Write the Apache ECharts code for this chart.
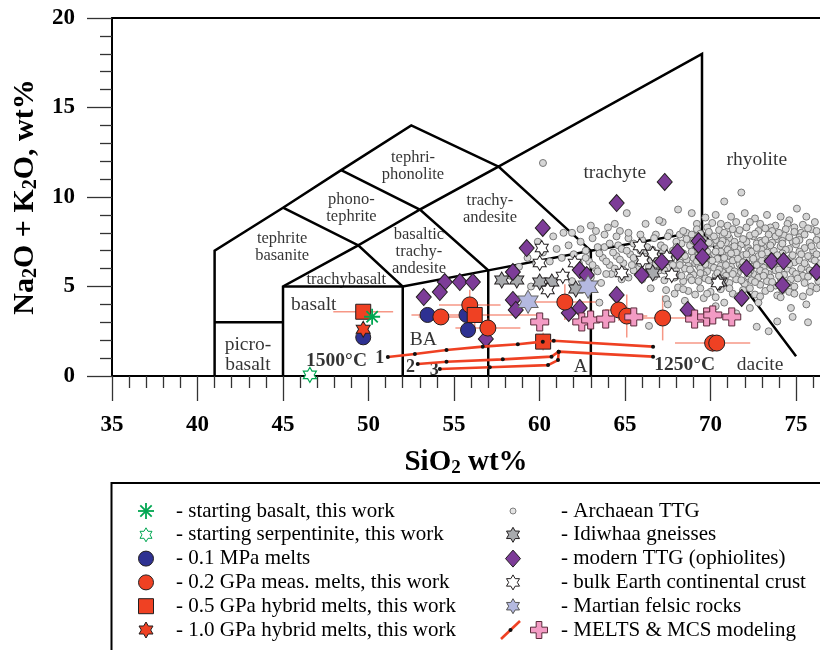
<!DOCTYPE html>
<html>
<head>
<meta charset="utf-8">
<title>TAS diagram</title>
<script src="https://cdn.jsdelivr.net/npm/echarts@6/dist/echarts.min.js"></script>
<style>
  html, body { margin: 0; padding: 0; background: #fff; }
  #chart { width: 820px; height: 650px; }
</style>
</head>
<body>
<div id="chart"></div>
<script>
// ---- data ----
const xMajorTicks = [35, 40, 45, 50, 55, 60, 65, 70, 75];
const xMinorTicks = [36, 37, 38, 39, 41, 42, 43, 44, 46, 47, 48, 49, 51, 52, 53, 54, 56, 57, 58, 59,
  61, 62, 63, 64, 66, 67, 68, 69, 71, 72, 73, 74, 76];

// TAS field boundaries (SiO2, Na2O+K2O)
const tasLines = [
  [[41, 0], [41, 7], [45, 9.4], [48.4, 11.5], [52.5, 14], [57.6, 11.7], [69.5, 18], [69.5, 8.1]],
  [[41, 3], [45, 3]],
  [[45, 0], [45, 5], [49.4, 7.3], [52, 5], [52, 0]],
  [[45, 5], [52, 5], [57, 5.9], [63, 7], [69.5, 8.1], [75, 1.1]],
  [[57, 0], [57, 5.9], [53, 9.3], [57.6, 11.7], [63, 7], [63, 0]],
  [[45, 9.4], [49.4, 7.3], [53, 9.3], [48.4, 11.5]]
];

const fieldNames = ['tephri-\nphonolite', 'phono-\ntephrite', 'tephrite\nbasanite', 'trachy-\nandesite',
  'basaltic\ntrachy-\nandesite', 'trachybasalt', 'basalt', 'picro-\nbasalt', 'BA', 'A', 'dacite', 'trachyte', 'rhyolite'];
const fieldX = [52.6, 49.0, 44.95, 57.1, 52.95, 48.7, 46.8, 42.95, 53.2, 62.4, 72.9, 64.4, 72.7];
const fieldY = [11.73, 9.39, 7.18, 9.3, 6.96, 5.4, 3.97, 1.17, 2.01, 0.52, 0.61, 11.36, 12.07];

const tempNames = ['1500°C', '1250°C', '1', '2', '3'];
const tempX = [48.13, 68.49, 50.66, 52.46, 53.84];
const tempY = [0.85, 0.61, 0.99, 0.49, 0.34];

const startingBasalt = [[50.21, 3.31]];
const startingSerpentinite = [[46.57, 0.06]];
const melts01MPa = [[49.69, 2.16], [53.45, 3.41], [55.82, 2.57], [55.73, 3.41]];
const melts02GPa = [[54.23, 3.3], [55.92, 3.97], [56.98, 2.68], [61.48, 4.13], [64.63, 3.69],
  [65.1, 3.35], [67.2, 3.24], [70.12, 1.84], [70.36, 1.84]];
const melts02GPaErr = [[1.3, 0], [1.8, 0.85], [1.9, 0.55], [2.2, 1.0], [0.8, 0.6],
  [1.2, 1.2], [1.9, 1.25], [2.2, 0.5], [0, 0]];
const hybrid05GPa = [[49.69, 3.59], [56.21, 3.41], [60.21, 1.92]];
const hybrid05GPaErr = [[1.75, 0], [3.7, 0.9], [0, 0.5]];
const hybrid10GPa = [[49.69, 2.61]];

const meltsLine1 = [[51.13, 1.06], [52.71, 1.23], [54.56, 1.45], [56.68, 1.64], [58.73, 1.77],
  [60.19, 1.92], [60.83, 1.97], [66.64, 1.64]];
const meltsLine2 = [[52.88, 0.67], [54.56, 0.8], [57.85, 0.93], [60.7, 1.08], [61.12, 1.36], [66.64, 1.08]];
const meltsLine3 = [[54.17, 0.39], [57.09, 0.49], [60.5, 0.61], [61.08, 0.89], [61.12, 1.36]];
const mcsModel = [[60.01, 3.02], [62.47, 3.02], [62.99, 3.13], [63.87, 3.18], [65.51, 3.3],
  [69.07, 3.18], [69.77, 3.3], [70.13, 3.41], [71.24, 3.3]];

const idiwhaa = [[57.79, 5.36], [58.67, 5.36], [60.01, 5.25], [60.72, 5.25], [62.12, 4.86],
  [66.62, 5.75], [70.54, 5.25]];
const continentalCrust = [[60.13, 7.15], [65.86, 7.26], [66.62, 6.82], [62.06, 6.31], [64.81, 5.75],
  [61.36, 5.59], [60.48, 4.8], [67.73, 5.64], [70.42, 5.2], [60.01, 6.31], [66.03, 6.48], [67.44, 6.65]];
const martian = [[59.33, 4.15], [62.84, 4.99]];
const modernTTG = [[54.46, 5.25], [55.34, 5.25], [56.1, 5.25], [54.17, 4.69], [53.23, 4.41], [56.86, 2.07],
  [58.44, 5.81], [58.44, 4.25], [58.61, 3.69], [59.25, 7.15], [60.19, 8.27], [67.32, 10.84], [64.51, 9.66],
  [68.07, 6.93], [69.3, 7.54], [69.42, 7.21], [69.53, 6.65], [73.57, 6.42], [74.27, 6.42], [62.35, 5.92],
  [62.76, 5.64], [67.15, 6.37], [72.11, 6.03], [76.2, 5.81], [74.21, 5.08], [64.51, 4.53], [71.82, 4.36],
  [61.71, 3.52], [62.35, 3.8], [68.66, 3.69], [65.98, 5.64]];

const archaeanTTG = [
  [60.2, 11.9], [65.1, 9.1], [68.1, 9.3], [68.9, 9.1], [69.7, 8.85], [70.8, 9.75], [71.8, 10.25], [75.05, 9.35],
  [64.4, 8.5], [61.9, 8.0], [60.8, 7.8], [59.9, 7.5], [63.0, 8.4], [67.2, 8.6], [62.4, 8.2], [63.3, 8.1],
  [64.0, 8.3], [64.7, 8.1], [61.4, 8.0],
  [70.3, 9.0], [71.2, 8.9], [72.0, 9.1], [72.6, 8.8], [73.3, 9.0], [74.1, 8.9], [74.6, 8.7], [75.6, 8.9],
  [76.1, 8.6], [67.0, 8.7], [66.2, 8.5], [70.6, 8.5], [71.5, 8.6], [72.9, 8.5], [73.8, 8.4], [74.9, 8.3],
  [75.9, 8.2], [76.3, 7.9], [69.2, 8.5], [70.1, 8.55], [71.0, 8.4], [72.3, 8.6], [73.5, 8.3], [74.5, 8.5], [75.4, 8.45],
  [69.2, 8.2], [69.8, 8.3], [70.5, 8.15], [71.3, 8.2], [72.1, 8.3], [72.8, 8.1], [73.6, 8.1], [74.4, 8.2],
  [75.3, 8.0], [68.6, 8.0], [68.2, 7.9], [67.6, 8.0], [66.8, 7.9], [66.0, 7.6], [65.2, 7.7], [64.6, 7.3], [63.8, 7.2],
  [68.9, 7.9], [69.4, 7.7], [69.9, 7.95], [70.3, 7.6], [70.7, 7.85], [71.1, 7.7], [71.6, 7.95], [72.0, 7.6],
  [72.5, 7.8], [72.9, 7.55], [73.4, 7.9], [73.9, 7.65], [74.3, 7.85], [74.8, 7.5], [75.2, 7.75], [75.8, 7.45], [76.2, 7.6],
  [68.3, 7.4], [68.8, 7.3], [69.2, 7.45], [69.6, 7.2], [70.0, 7.4], [70.5, 7.25], [70.9, 7.45], [71.3, 7.2],
  [71.8, 7.35], [72.2, 7.15], [72.7, 7.4], [73.1, 7.2], [73.6, 7.45], [74.1, 7.25], [74.6, 7.1], [75.0, 7.35],
  [75.5, 7.15], [76.0, 7.0],
  [69.1, 7.1], [69.7, 7.05], [70.4, 7.1], [71.0, 7.05], [71.6, 7.1], [72.3, 7.0], [73.0, 7.05], [73.7, 7.0],
  [74.4, 7.05], [75.2, 6.95], [69.6, 7.6], [70.7, 7.55], [71.4, 7.5], [72.1, 7.5], [73.0, 7.45], [74.2, 7.55],
  [75.2, 7.6], [76.4, 7.3],
  [67.2, 6.9], [67.8, 7.0], [68.4, 6.85], [68.9, 6.95], [69.3, 6.75], [69.8, 6.95], [70.2, 6.8], [70.6, 6.95],
  [71.0, 6.7], [71.5, 6.9], [71.9, 6.75], [72.4, 6.95], [72.8, 6.7], [73.3, 6.9], [73.7, 6.65], [74.2, 6.85],
  [74.7, 6.6], [75.3, 6.8], [75.9, 6.55], [76.2, 6.8],
  [66.5, 6.5], [67.1, 6.4], [67.7, 6.55], [68.2, 6.35], [68.6, 6.5], [69.1, 6.3], [69.5, 6.5], [70.0, 6.35],
  [70.4, 6.55], [70.8, 6.3], [71.3, 6.45], [71.7, 6.25], [72.1, 6.5], [72.6, 6.3], [73.0, 6.45], [73.5, 6.2],
  [73.9, 6.4], [74.4, 6.15], [74.9, 6.35], [75.6, 6.1], [76.3, 6.3],
  [68.7, 6.15], [69.3, 6.15], [70.0, 6.2], [70.6, 6.15], [71.2, 6.1], [71.8, 6.05], [72.4, 6.1], [73.1, 6.05],
  [73.7, 6.1], [74.5, 6.0], [75.3, 6.0],
  [65.8, 6.0], [66.4, 6.1], [67.0, 5.9], [67.5, 6.05], [68.0, 5.85], [68.5, 6.0], [68.9, 5.8], [69.4, 6.0],
  [69.8, 5.85], [70.2, 6.05], [70.7, 5.8], [71.1, 5.95], [71.6, 5.75], [72.0, 5.95], [72.5, 5.7], [72.9, 5.9],
  [73.4, 5.7], [73.8, 5.9], [74.3, 5.65], [74.8, 5.85], [75.4, 5.6], [76.0, 5.8],
  [69.0, 5.65], [69.6, 5.65], [70.3, 5.6], [70.9, 5.6], [71.5, 5.55], [72.2, 5.55], [72.8, 5.5], [73.5, 5.5],
  [74.1, 5.45], [74.7, 5.4],
  [65.2, 5.5], [66.0, 5.4], [66.7, 5.55], [67.3, 5.35], [67.9, 5.5], [68.4, 5.3], [68.8, 5.5], [69.3, 5.3],
  [69.7, 5.45], [70.2, 5.25], [70.6, 5.45], [71.1, 5.2], [71.5, 5.4], [72.0, 5.15], [72.4, 5.35], [72.9, 5.1],
  [73.3, 5.3], [73.8, 5.05], [74.3, 5.25], [74.9, 5.0], [75.5, 5.2], [76.3, 5.3], [75.9, 5.0],
  [66.5, 4.9], [67.4, 4.8], [68.1, 4.95], [68.7, 4.75], [69.4, 4.9], [70.0, 4.7], [70.6, 4.85], [71.3, 4.6],
  [71.9, 4.8], [72.6, 4.55], [73.2, 4.75], [73.9, 4.5], [74.6, 4.7], [75.4, 4.45],
  [67.4, 4.3], [68.5, 4.2], [69.6, 4.35], [70.8, 4.1], [71.8, 4.3], [72.8, 4.1], [74.1, 4.4], [74.7, 3.8], [75.6, 4.0],
  [66.4, 2.8], [73.4, 2.5], [73.9, 3.05], [74.8, 3.3], [75.7, 3.0], [72.7, 2.75], [63.5, 4.1], [67.5, 4.0],
  [68.7, 3.6], [72.3, 3.8], [71.5, 3.5], [70.3, 3.9],
  [58.8, 6.1], [59.3, 6.6], [59.8, 6.3], [60.2, 6.9], [60.6, 6.4], [61.0, 7.1], [61.3, 6.6], [61.7, 7.3],
  [62.0, 6.8], [62.4, 7.5], [62.7, 7.0], [63.1, 7.7], [63.4, 7.2], [63.8, 7.9], [64.1, 7.4], [64.5, 7.8],
  [64.8, 7.1], [65.2, 8.0], [65.5, 7.4], [65.9, 7.9], [66.3, 7.2], [66.7, 7.7], [67.1, 7.3], [67.5, 7.8],
  [68.0, 7.5], [68.4, 8.1],
  [62.9, 6.4], [63.3, 6.0], [63.7, 6.6], [64.1, 6.2], [64.5, 6.7], [64.9, 6.3], [65.3, 6.8], [65.7, 6.4], [66.1, 6.9],
  [63.0, 5.5], [63.6, 5.2], [64.2, 5.7], [64.8, 5.4], [65.5, 5.9], [61.5, 5.6], [62.2, 5.9], [60.7, 5.3],
  [59.5, 5.0], [58.3, 5.6],
  [68.6, 7.65], [69.0, 7.55], [69.4, 7.95], [69.9, 7.45], [70.2, 7.8], [70.6, 7.35], [71.0, 7.9], [71.4, 7.25],
  [71.9, 7.65], [72.3, 7.85], [72.7, 7.15], [73.2, 7.6], [73.5, 7.3], [73.8, 7.8], [74.2, 7.4], [74.6, 7.75],
  [75.0, 7.55], [75.5, 7.9], [75.9, 7.25],
  [68.5, 6.7], [69.0, 6.6], [69.5, 6.85], [69.9, 6.6], [70.3, 6.95], [70.8, 6.6], [71.2, 6.85], [71.6, 6.55],
  [72.1, 6.8], [72.5, 6.55], [73.0, 6.8], [73.4, 6.55], [73.9, 6.75], [74.3, 6.5], [74.8, 6.75], [75.2, 6.45],
  [75.7, 6.7], [76.1, 6.45],
  [68.2, 6.2], [68.8, 5.95], [69.2, 6.4], [69.7, 6.25], [70.1, 6.45], [70.5, 5.95], [70.9, 6.2], [71.4, 5.85],
  [71.9, 6.35], [72.3, 5.85], [72.7, 6.2], [73.2, 5.8], [73.6, 6.3], [74.0, 5.95], [74.6, 6.25], [75.0, 5.7],
  [75.5, 6.3], [75.8, 5.9],
  [68.3, 5.6], [68.9, 5.35], [69.4, 5.75], [69.9, 5.35], [70.4, 5.75], [70.8, 5.35], [71.3, 5.7], [71.8, 5.35],
  [72.2, 5.75], [72.6, 5.25], [73.1, 5.6], [73.6, 5.25], [74.0, 5.6], [74.5, 5.15], [75.1, 5.45], [75.7, 5.55],
  [68.0, 7.2], [67.6, 6.75], [67.3, 7.15], [66.9, 6.7], [66.6, 7.05], [66.2, 6.65], [65.9, 7.0], [65.5, 6.6],
  [65.1, 7.0], [64.7, 6.5], [64.3, 6.9], [63.9, 6.4], [63.5, 6.85], [63.1, 6.2], [62.7, 6.6], [62.3, 6.3],
  [67.8, 6.2], [67.3, 5.9], [66.8, 6.25], [66.3, 5.8], [65.9, 6.3], [65.4, 6.2], [64.9, 5.9], [64.4, 6.0],
  [63.9, 5.7], [63.4, 5.85], [62.6, 5.5], [61.9, 5.3],
  [67.9, 4.6], [68.4, 4.85], [69.1, 4.55], [69.8, 4.6], [70.3, 4.4], [71.1, 4.9], [71.6, 4.45], [72.3, 4.9],
  [72.9, 4.45], [73.5, 4.9], [74.2, 4.8], [74.9, 4.6], [75.8, 4.7], [76.2, 4.9],
  [69.9, 8.05], [70.8, 8.0], [71.7, 8.15], [72.6, 7.95], [73.2, 8.25], [74.0, 8.0], [74.9, 8.05], [75.7, 8.25], [76.2, 8.1]
];

const legendLeft = ['starting basalt, this work', 'starting serpentinite, this work', '0.1 MPa melts',
  '0.2 GPa meas. melts, this work', '0.5 GPa hybrid melts, this work', '1.0 GPa hybrid melts, this work'];
const legendRight = ['Archaean TTG', 'Idiwhaa gneisses', 'modern TTG (ophiolites)',
  'bulk Earth continental crust', 'Martian felsic rocks', 'MELTS & MCS modeling'];

// ---- styling ----
const FONT = '"Liberation Serif", "Times New Roman", Times, serif';
const RED = '#ef4123';
const ERR = 'rgba(239, 65, 35, 0.55)';
const INK = '#231f20';
const GREEN = '#00a651';

const STAR_PTS = [[0, -10], [2.887, -5], [8.66, -5], [5.774, 0], [8.66, 5], [2.887, 5], [0, 10],
  [-2.887, 5], [-8.66, 5], [-5.774, 0], [-8.66, -5], [-2.887, -5]];
const CROSS_PTS = [[-3, -9], [3, -9], [3, -3], [9, -3], [9, 3], [3, 3], [3, 9], [-3, 9],
  [-3, 3], [-9, 3], [-9, -3], [-3, -3]];
const toPath = (pts) => 'path://M' + pts.map((p) => p.join(',')).join('L') + 'Z';
const STAR = toPath(STAR_PTS);
const CROSS = toPath(CROSS_PTS);
const ASTERISK = 'path://M0,-10L0,10M-10,0L10,0M-7.07,-7.07L7.07,7.07M-7.07,7.07L7.07,-7.07';

function scatter(name, data, symbol, size, color, border, borderWidth) {
  return {
    name, type: 'scatter', data, symbol, symbolSize: size, silent: true,
    itemStyle: { color, borderColor: border, borderWidth, opacity: 1 }
  };
}

function errorBars(points, errs) {
  return {
    type: 'custom',
    silent: true,
    data: points.map((p, i) => [p[0], p[1], errs[i][0], errs[i][1]]),
    renderItem(params, api) {
      const x = api.value(0);
      const y = api.value(1);
      const ex = api.value(2);
      const ey = api.value(3);
      const children = [];
      const seg = (a, b) => ({
        type: 'line',
        shape: { x1: a[0], y1: a[1], x2: b[0], y2: b[1] },
        style: { stroke: ERR, lineWidth: 1.5 }
      });
      if (ex) children.push(seg(api.coord([x - ex, y]), api.coord([x + ex, y])));
      if (ey) children.push(seg(api.coord([x, y - ey]), api.coord([x, y + ey])));
      return { type: 'group', children };
    }
  };
}

function meltsLine(data) {
  return {
    type: 'line', data, silent: true, symbol: 'circle', symbolSize: 4, showSymbol: true,
    itemStyle: { color: '#111' },
    lineStyle: { color: RED, width: 2.6 }
  };
}

// ---- legend drawn as graphics ----
function polyAt(pts, cx, cy, w, h) {
  const xs = pts.map((p) => p[0]);
  const ys = pts.map((p) => p[1]);
  const bw = Math.max(...xs) - Math.min(...xs);
  const bh = Math.max(...ys) - Math.min(...ys);
  return pts.map(([u, v]) => [cx + (u * w) / bw, cy + (v * h) / bh]);
}

function legendIcon(name, cx, cy) {
  const poly = (pts, w, h, fill, stroke, x = cx) => ({
    type: 'polygon', shape: { points: polyAt(pts, x, cy, w, h) },
    style: { fill, stroke, lineWidth: 1 }
  });
  switch (name) {
    case legendLeft[0]:
      return [[0, -8, 0, 8], [-8, 0, 8, 0], [-5.7, -5.7, 5.7, 5.7], [-5.7, 5.7, 5.7, -5.7]].map((l) => ({
        type: 'line', shape: { x1: cx + l[0], y1: cy + l[1], x2: cx + l[2], y2: cy + l[3] },
        style: { stroke: GREEN, lineWidth: 1.8 }
      }));
    case legendLeft[1]: return [poly(STAR_PTS, 12, 14, '#fff', GREEN)];
    case legendLeft[2]: return [{ type: 'circle', shape: { cx, cy, r: 7.5 }, style: { fill: '#2e3192', stroke: INK } }];
    case legendLeft[3]: return [{ type: 'circle', shape: { cx, cy, r: 7.5 }, style: { fill: RED, stroke: INK } }];
    case legendLeft[4]: return [{ type: 'rect', shape: { x: cx - 7.5, y: cy - 7.5, width: 15, height: 15 }, style: { fill: RED, stroke: INK } }];
    case legendLeft[5]: return [poly(STAR_PTS, 14, 16, RED, INK)];
    case legendRight[0]: return [{ type: 'circle', shape: { cx, cy, r: 3 }, style: { fill: '#e4e4e4', stroke: '#808080' } }];
    case legendRight[1]: return [poly(STAR_PTS, 13, 15, '#a8aaad', INK)];
    case legendRight[2]: return [poly([[0, -1], [1, 0], [0, 1], [-1, 0]], 15, 17, '#7d3c98', INK)];
    case legendRight[3]: return [poly(STAR_PTS, 13, 15, '#fff', INK)];
    case legendRight[4]: return [poly(STAR_PTS, 13, 15, '#b4b9e0', '#555')];
    default:
      return [
        { type: 'line', shape: { x1: cx - 12, y1: cy + 9, x2: cx + 7, y2: cy - 9 }, style: { stroke: RED, lineWidth: 2.6 } },
        { type: 'circle', shape: { cx: cx - 2.5, cy, r: 2 }, style: { fill: '#111' } },
        poly(CROSS_PTS, 17, 17, '#f39bc4', '#5a2a3a', cx + 26)
      ];
  }
}

const LEG_TOP = 511;
const LEG_DY = 23.8;
const legendGraphics = [{
  type: 'rect', shape: { x: 111.5, y: 483, width: 740, height: 200 },
  style: { fill: 'none', stroke: '#000', lineWidth: 2 }
}];
[[legendLeft, 146, 176], [legendRight, 513, 561]].forEach(([names, ix, tx]) => {
  names.forEach((name, i) => {
    const y = LEG_TOP + i * LEG_DY;
    legendGraphics.push(...legendIcon(name, ix, y));
    legendGraphics.push({
      type: 'text', x: tx, y,
      style: { text: '- ' + name, fill: '#000', fontFamily: FONT, fontSize: 21, verticalAlign: 'middle', align: 'left' }
    });
  });
});

// ---- chart ----
const chart = echarts.init(document.getElementById('chart'));
const tickStyle = { color: '#333', width: 1.3 };
const boldLabel = { color: '#000', fontFamily: FONT, fontWeight: 'bold' };
const nameStyle = (size) => ({
  color: '#000', fontFamily: FONT, fontWeight: 'bold', fontSize: size,
  rich: { sub: { color: '#000', fontFamily: FONT, fontWeight: 'bold', fontSize: Math.round(size * 0.65), padding: [12, 0, 0, 0] } }
});
const bigFields = ['basalt', 'picro-\nbasalt', 'BA', 'A', 'dacite', 'trachyte', 'rhyolite'];

chart.setOption({
  animation: false,
  backgroundColor: '#fff',
  grid: { left: 112, right: 0, top: 18, bottom: 274, outerBoundsMode: 'none' },
  xAxis: [
    {
      type: 'value', min: 35, max: 76.4, position: 'bottom',
      axisLine: { show: true, onZero: false, lineStyle: { color: '#000', width: 2 } },
      axisTick: { show: true, length: 25, customValues: xMajorTicks, lineStyle: tickStyle },
      axisLabel: { ...boldLabel, fontSize: 23, margin: 38, customValues: xMajorTicks },
      splitLine: { show: false },
      name: 'SiO{sub|2} wt%', nameLocation: 'middle', nameGap: 71, nameTextStyle: nameStyle(29)
    },
    {
      type: 'value', min: 35, max: 76.4, position: 'bottom',
      axisLine: { show: false, onZero: false },
      axisTick: { show: true, length: 12, customValues: xMinorTicks, lineStyle: tickStyle },
      axisLabel: { show: false },
      splitLine: { show: false }
    },
    {
      type: 'value', min: 35, max: 76.4, position: 'top',
      axisLine: { show: true, onZero: false, lineStyle: { color: '#000', width: 2 } },
      axisTick: { show: false }, axisLabel: { show: false }, splitLine: { show: false }
    }
  ],
  yAxis: {
    type: 'value', min: 0, max: 20, interval: 5,
    axisLine: { show: true, onZero: false, lineStyle: { color: '#000', width: 2 } },
    axisTick: { show: true, length: 25, lineStyle: tickStyle },
    minorTick: { show: true, splitNumber: 5, length: 12, lineStyle: tickStyle },
    axisLabel: { ...boldLabel, fontSize: 23, margin: 37 },
    splitLine: { show: false }, minorSplitLine: { show: false },
    name: 'Na{sub|2}O + K{sub|2}O, wt%', nameLocation: 'middle', nameGap: 69, nameTextStyle: nameStyle(30)
  },
  graphic: legendGraphics,
  series: [
    {
      type: 'lines', coordinateSystem: 'cartesian2d', polyline: true, silent: true,
      data: tasLines.map((coords) => ({ coords })),
      lineStyle: { color: '#000', width: 2.5, opacity: 1 }
    },
    scatter('Archaean TTG', archaeanTTG, 'circle', 7, '#d6d6d6', '#777777', 1),
    scatter('Idiwhaa gneisses', idiwhaa, STAR, [14, 16], '#a8aaad', INK, 1),
    scatter('bulk Earth continental crust', continentalCrust, STAR, [13, 15], '#fff', INK, 1),
    scatter('modern TTG (ophiolites)', modernTTG, 'diamond', [15, 17], '#7d3c98', INK, 1),
    scatter('Martian felsic rocks', martian, STAR, [20, 23], '#b4b9e0', '#666', 1),
    errorBars(melts02GPa, melts02GPaErr),
    errorBars(hybrid05GPa, hybrid05GPaErr),
    meltsLine(meltsLine1),
    meltsLine(meltsLine2),
    meltsLine(meltsLine3),
    scatter('0.1 MPa melts', melts01MPa, 'circle', 15, '#2e3192', INK, 1),
    scatter('0.2 GPa meas. melts, this work', melts02GPa, 'circle', 16, RED, INK, 1),
    scatter('0.5 GPa hybrid melts, this work', hybrid05GPa, 'rect', 15, RED, INK, 1),
    scatter('1.0 GPa hybrid melts, this work', hybrid10GPa, STAR, [14, 16], RED, INK, 1),
    scatter('MELTS & MCS modeling', mcsModel, CROSS, 18, '#f39bc4', '#5a2a3a', 1),
    scatter('starting basalt, this work', startingBasalt, ASTERISK, 16, 'rgba(0,0,0,0)', GREEN, 1.8),
    scatter('starting serpentinite, this work', startingSerpentinite, STAR, [13, 15], '#fff', GREEN, 1.2),
    {
      type: 'scatter', silent: true, symbol: 'circle', symbolSize: 0.1,
      itemStyle: { color: 'rgba(0,0,0,0)' },
      data: fieldNames.map((name, i) => {
        const big = bigFields.includes(name);
        return {
          name, value: [fieldX[i], fieldY[i]],
          label: {
            show: true, position: 'inside', formatter: '{b}', color: '#000', fontFamily: FONT,
            fontSize: big ? 19.5 : 16.5, lineHeight: big ? 20 : 17
          }
        };
      }).concat(tempNames.map((name, i) => ({
        name, value: [tempX[i], tempY[i]],
        label: {
          show: true, position: 'inside', formatter: '{b}', color: '#000', fontFamily: FONT,
          fontWeight: 'bold', fontSize: i < 2 ? 19.5 : 18
        }
      })))
    }
  ]
});
</script>
</body>
</html>
